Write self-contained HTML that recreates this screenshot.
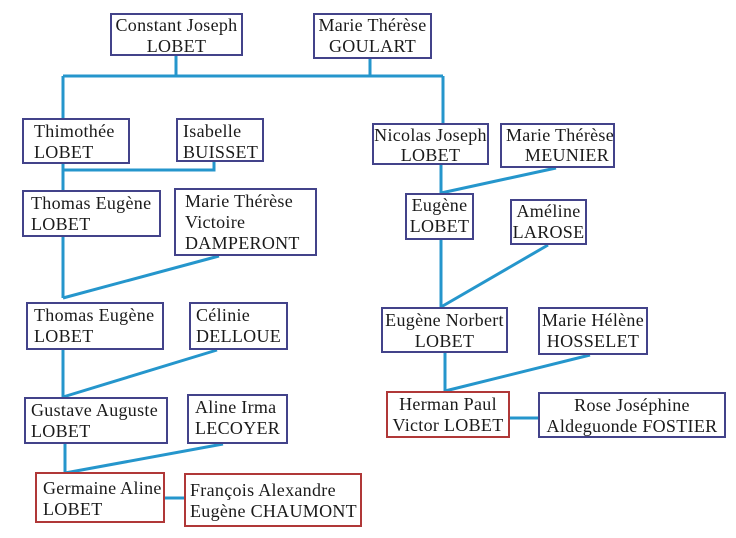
<!DOCTYPE html>
<html><head><meta charset="utf-8"><style>
html,body{margin:0;padding:0;background:#fff;}
body{width:736px;height:538px;position:relative;overflow:hidden;font-family:"Liberation Serif",serif;font-size:18px;letter-spacing:0.3px;color:#1a1a1a;}
.b{position:absolute;box-sizing:border-box;border:2.5px solid #43438a;background:#fff;line-height:21px;padding:1px 6px;white-space:nowrap;}
.r{border-color:#b03838;}
.c{text-align:center;}
svg{position:absolute;left:0;top:0;}
</style></head><body>
<svg width="736" height="538"><g stroke="#2596cc" stroke-width="3" fill="none">
<path d="M176 56V76M370 59V76M63 76H443M63 76V118M443 76V123"/>
<path d="M63 164V190M63 170H214V162"/>
<path d="M63 237V298M219 256L63 298"/>
<path d="M63 350V397M217 350L63 397"/>
<path d="M65 444V473M223 444L65 473"/>
<path d="M165 498H184"/>
<path d="M441 165V193M556 168L441 193"/>
<path d="M441 240V307M548 245L441 307"/>
<path d="M445 353V391M590 355L445 391"/>
<path d="M510 418H538"/>
</g></svg>
<div class="b c" style="left:110px;top:13px;width:133px;height:43px;padding:0;">Constant Joseph<br>LOBET</div>
<div class="b c" style="left:313px;top:13px;width:119px;height:46px;padding:0;">Marie Thérèse<br>GOULART</div>
<div class="b" style="left:22px;top:118px;width:108px;height:46px;padding-left:10px;">Thimothée<br>LOBET</div>
<div class="b" style="left:176px;top:118px;width:88px;height:44px;padding-left:5px;">Isabelle<br>BUISSET</div>
<div class="b" style="left:22px;top:190px;width:139px;height:47px;padding-left:7px;">Thomas Eugène<br>LOBET</div>
<div class="b" style="left:174px;top:188px;width:143px;height:68px;padding-left:9px;">Marie Thérèse<br>Victoire<br>DAMPERONT</div>
<div class="b" style="left:26px;top:302px;width:138px;height:48px;padding-left:6px;">Thomas Eugène<br>LOBET</div>
<div class="b" style="left:189px;top:302px;width:99px;height:48px;padding-left:5px;">Célinie<br>DELLOUE</div>
<div class="b" style="left:24px;top:397px;width:144px;height:47px;padding-left:5px;">Gustave Auguste<br>LOBET</div>
<div class="b" style="left:187px;top:394px;width:101px;height:50px;padding-left:6px;">Aline Irma<br>LECOYER</div>
<div class="b r" style="left:35px;top:472px;width:130px;height:51px;padding-top:4px;">Germaine Aline<br>LOBET</div>
<div class="b r" style="left:184px;top:473px;width:178px;height:54px;padding-top:5px;padding-left:4px;">François Alexandre<br>Eugène CHAUMONT</div>
<div class="b c" style="left:372px;top:123px;width:117px;height:42px;padding:0;line-height:20px;">Nicolas Joseph<br>LOBET</div>
<div class="b" style="left:500px;top:123px;width:115px;height:45px;padding:0 4px;text-align:right;line-height:20px;">Marie Thérèse<br>MEUNIER</div>
<div class="b c" style="left:405px;top:193px;width:69px;height:47px;padding:0;">Eugène<br>LOBET</div>
<div class="b c" style="left:510px;top:199px;width:77px;height:46px;padding:0;">Améline<br>LAROSE</div>
<div class="b c" style="left:381px;top:307px;width:127px;height:46px;padding:1px 0;">Eugène Norbert<br>LOBET</div>
<div class="b c" style="left:538px;top:307px;width:110px;height:48px;padding:1px 0;">Marie Hélène<br>HOSSELET</div>
<div class="b r c" style="left:386px;top:391px;width:124px;height:47px;padding:1px 0;">Herman Paul<br>Victor LOBET</div>
<div class="b c" style="left:538px;top:392px;width:188px;height:46px;padding:1px 0;">Rose Joséphine<br>Aldeguonde FOSTIER</div>
</body></html>
